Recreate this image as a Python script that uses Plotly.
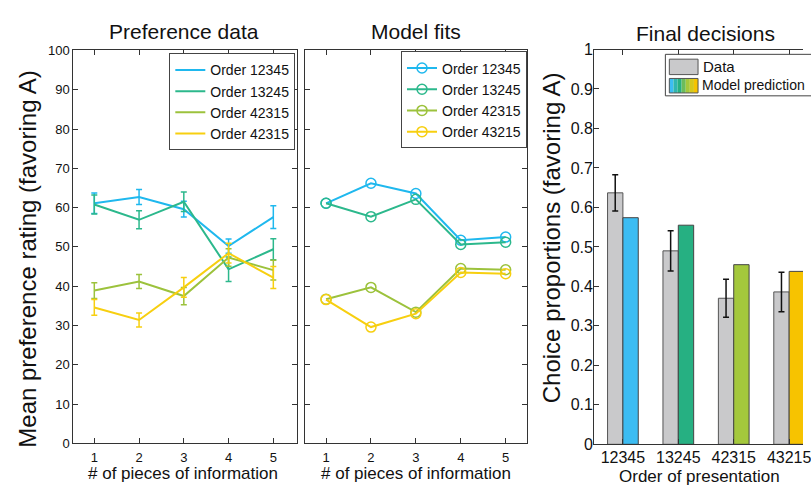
import plotly.graph_objects as go

W, H = 811, 490
FONT = "Liberation Sans, Arial, sans-serif"

# ---------------- data ----------------
steps = [1, 2, 3, 4, 5]
data_names = ["Order 12345", "Order 13245", "Order 42315", "Order 42315"]
fit_names = ["Order 12345", "Order 13245", "Order 42315", "Order 43215"]
colors = ["#1fb8ee", "#2cb88c", "#9cc23c", "#f7cf10"]

pref_12345 = [61.1, 62.7, 59.6, 50.2, 57.6]
pref_13245 = [60.8, 56.9, 61.5, 44.3, 49.4]
pref_42315 = [38.9, 41.2, 37.5, 47.3, 44.1]
pref_43215 = [34.6, 31.4, 39.7, 48.4, 42.2]
err_12345 = [2.6, 1.9, 2.0, 1.8, 2.9]
err_13245 = [2.4, 2.3, 2.5, 3.1, 2.7]
err_42315 = [2.0, 1.8, 2.2, 2.2, 2.5]
err_43215 = [2.0, 1.8, 2.5, 2.5, 2.8]

fit_12345 = [61.1, 66.2, 63.6, 51.7, 52.5]
fit_13245 = [61.1, 57.7, 62.1, 50.6, 51.2]
fit_42315 = [36.7, 39.7, 33.4, 44.5, 44.2]
fit_43215 = [36.6, 29.6, 33.0, 43.5, 43.2]

orders = ["12345", "13245", "42315", "43215"]
choice_data = [0.637, 0.490, 0.370, 0.386]
choice_err = [0.046, 0.051, 0.048, 0.050]
choice_model = [0.574, 0.555, 0.455, 0.438]
model_colors = ["#3cbcf2", "#26b082", "#a4c83c", "#f7c300"]

pref_series = [pref_12345, pref_13245, pref_42315, pref_43215]
err_series = [err_12345, err_13245, err_42315, err_43215]
fit_series = [fit_12345, fit_13245, fit_42315, fit_43215]


def px(x):
    return x / W


def py(y):
    return 1 - y / H


fig = go.Figure()

# panel 1: preference data
for name, ys, es, c in zip(data_names, pref_series, err_series, colors):
    fig.add_trace(go.Scatter(
        x=steps, y=ys, name=name, mode="lines",
        line=dict(color=c, width=2),
        error_y=dict(type="data", array=es, color=c, thickness=1.5, width=3),
        xaxis="x", yaxis="y", legend="legend"))

# panel 2: model fits
for name, ys, c in zip(fit_names, fit_series, colors):
    fig.add_trace(go.Scatter(
        x=steps, y=ys, name=name, mode="lines+markers",
        line=dict(color=c, width=2),
        marker=dict(symbol="circle-open", size=10, color=c, line=dict(width=1.5, color=c)),
        xaxis="x2", yaxis="y2", legend="legend2"))

# panel 3: final decisions
fig.add_trace(go.Bar(
    x=orders, y=choice_data, name="Data",
    marker=dict(color="#c9c9cb", line=dict(color="#555555", width=1)),
    error_y=dict(type="data", array=choice_err, color="#111111", thickness=1.5, width=3),
    xaxis="x3", yaxis="y3", showlegend=False))
fig.add_trace(go.Bar(
    x=orders, y=choice_model, name="Model prediction",
    marker=dict(color=model_colors, line=dict(color="#444444", width=1)),
    xaxis="x3", yaxis="y3", showlegend=False))

axcol = "#333333"
common = dict(showgrid=False, zeroline=False, showline=True, linecolor=axcol, linewidth=1,
              ticks="inside", ticklen=5, tickcolor=axcol, mirror="ticks",
              tickfont=dict(family=FONT, size=13, color="#111111"))

p1_x = [px(74), px(300)]
p2_x = [px(308), px(532)]
p3_x = [px(600), 1.0]
p12_y = [py(451), py(44)]
p3_y = [py(452), py(43)]

fig.update_layout(
    width=W, height=H,
    margin=dict(l=0, r=0, t=0, b=0),
    paper_bgcolor="white", plot_bgcolor="white",
    font=dict(family=FONT, color="#111111"),
    barmode="group", bargap=0.446, bargroupgap=0,
    xaxis=dict(domain=p1_x, range=[0.53, 5.53], tickvals=steps, anchor="y", ticklabelstandoff=2, **common),
    yaxis=dict(domain=p12_y, range=[0, 100], tickvals=list(range(0, 101, 10)), anchor="x", **common),
    xaxis2=dict(domain=p2_x, range=[0.53, 5.47], tickvals=steps, anchor="y2", ticklabelstandoff=2, **common),
    yaxis2=dict(domain=p12_y, range=[0, 100], tickvals=list(range(0, 101, 10)), showticklabels=False,
                anchor="x2", **common),
    xaxis3=dict(domain=p3_x, range=[-0.52, 3.25], anchor="y3", ticklabelstandoff=-2,
                **{**common, "tickfont": dict(family=FONT, size=16, color="#111111")}),
    yaxis3=dict(domain=p3_y, range=[0, 1], tickvals=[i / 10 for i in range(11)],
                ticktext=["0"] + [f"{i / 10:.1f}" for i in range(1, 10)] + ["1"], anchor="x3",
                ticklabelstandoff=-3,
                **{**common, "mirror": False, "tickfont": dict(family=FONT, size=16, color="#111111")}),
    legend=dict(x=px(171), y=py(47), xanchor="left", yanchor="top",
                bgcolor="white", bordercolor="#444444", borderwidth=1,
                font=dict(family=FONT, size=14, color="#111111"),
                itemwidth=30, tracegroupgap=0),
    legend2=dict(x=px(405), y=py(45), xanchor="left", yanchor="top",
                 bgcolor="white", bordercolor="#444444", borderwidth=1,
                 font=dict(family=FONT, size=14, color="#111111"),
                 itemwidth=30, tracegroupgap=0),
)

ann = []


def add_text(text, x, y, size, angle=0, xanchor="center"):
    ann.append(dict(text=text, x=px(x), y=py(y), xref="paper", yref="paper",
                    showarrow=False, textangle=angle, xanchor=xanchor, yanchor="middle",
                    font=dict(family=FONT, size=size, color="#111111")))


add_text("Preference data", 186, 24, 21)
add_text("Model fits", 420, 24, 21)
add_text("Final decisions", 713, 26, 21)
add_text("Mean preference rating (favoring A)", 28, 260, 24, angle=-90)
add_text("Choice proportions (favoring A)", 557, 238, 24, angle=-90)
add_text("# of pieces of information", 185, 482, 17)
add_text("# of pieces of information", 420, 482, 17)
add_text("Order of presentation", 706, 485, 17)
add_text("Data", 708, 61, 15, xanchor="left")
add_text("Model prediction", 707, 80, 14, xanchor="left")

shapes = []
# custom legend box for bar panel
shapes.append(dict(type="rect", xref="paper", yref="paper", x0=px(672), x1=px(830), y0=py(91), y1=py(48),
                   line=dict(color="#444444", width=1), fillcolor="white", layer="above"))
shapes.append(dict(type="rect", xref="paper", yref="paper", x0=px(676), x1=px(705), y0=py(69), y1=py(53),
                   line=dict(color="#555555", width=1), fillcolor="#c9c9cb", layer="above"))
grad = ["#3cbcf2", "#30b6b0", "#26b082", "#6cbc5c", "#a4c83c", "#d6c81c", "#f7c300"]
x0 = 676
wstep = 29 / len(grad)
for i, g in enumerate(grad):
    shapes.append(dict(type="rect", xref="paper", yref="paper",
                       x0=px(x0 + i * wstep), x1=px(x0 + (i + 1) * wstep), y0=py(88), y1=py(73),
                       line=dict(width=0), fillcolor=g, layer="above"))
shapes.append(dict(type="rect", xref="paper", yref="paper", x0=px(676), x1=px(705), y0=py(88), y1=py(73),
                   line=dict(color="#555555", width=1), fillcolor="rgba(0,0,0,0)", layer="above"))

fig.update_layout(annotations=ann, shapes=shapes)

fig.write_html("out.html",
               post_script="document.body.style.margin='0';document.documentElement.style.overflow='hidden';document.body.style.overflow='hidden';")
